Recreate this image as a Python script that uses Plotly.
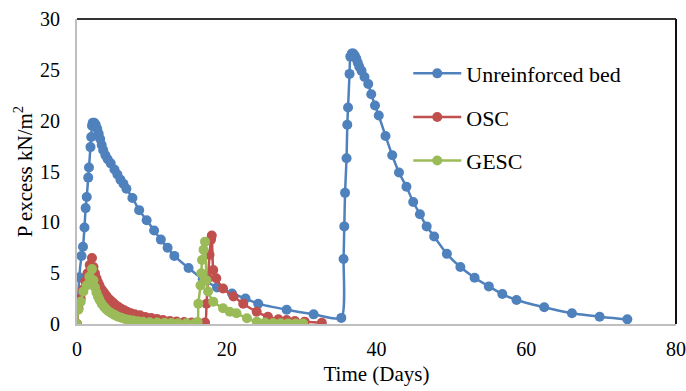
import plotly.graph_objects as go

# ---- data ----
unreinforced_t = [0, 0.3, 0.6, 0.8, 1.0, 1.15, 1.3, 1.5, 1.6, 1.8, 1.9, 2.0, 2.1, 2.3, 2.5, 2.7, 2.9, 3.1,
                  3.3, 3.5, 3.8, 4.1, 4.5, 5.0, 5.4, 5.8, 6.2, 6.6, 7.4, 8.3, 9.3, 10.3, 11.2, 12.1, 13.0,
                  14.9, 16.8, 18.7, 20.7, 22.5, 24.2, 28.0, 31.6, 35.3, 35.6, 35.7, 35.8, 36.0, 36.1, 36.2,
                  36.4, 36.5, 36.7, 36.9, 37.1, 37.3, 37.5, 37.7, 38.0, 38.4, 38.9, 39.3, 39.8, 40.3, 41.2,
                  42.1, 43.0, 44.0, 44.9, 45.8, 46.7, 47.7, 49.4, 51.2, 53.1, 55.0, 56.8, 58.7, 62.4, 66.1,
                  69.8, 73.5]
unreinforced_p = [0, 4.6, 6.7, 7.6, 9.5, 11.4, 12.5, 14.4, 15.4, 17.4, 18.4, 19.5, 19.8, 19.8, 19.6, 19.2,
                  18.7, 18.2, 17.6, 17.1, 16.6, 16.2, 15.8, 15.2, 14.7, 14.2, 13.8, 13.3, 12.4, 11.2, 10.2,
                  9.2, 8.3, 7.5, 6.7, 5.5, 4.4, 3.6, 3.0, 2.5, 2.0, 1.4, 0.95, 0.6, 6.4, 9.6, 12.9, 16.3,
                  19.6, 21.3, 24.6, 26.3, 26.6, 26.6, 26.4, 26.1, 25.7, 25.3, 24.9, 24.3, 23.6, 22.6, 21.5,
                  20.5, 18.5, 16.6, 14.9, 13.5, 12.0, 10.8, 9.6, 8.6, 6.9, 5.6, 4.55, 3.7, 2.95, 2.36, 1.64,
                  1.05, 0.72, 0.46]

osc_t = [0, 0.2, 0.5, 0.8, 1.1, 1.4, 1.7, 2.0, 2.2, 2.4, 2.6, 2.8, 3.0, 3.3, 3.6, 3.9, 4.2, 4.5, 4.8,
         5.1, 5.5, 5.9, 6.3, 6.7, 7.2, 7.7, 8.4, 9.1, 9.9, 10.7, 11.5, 12.4, 13.3, 14.3, 15.3, 16.2,
         17.1, 17.3, 17.5, 17.7, 17.9, 18.0, 18.2, 18.6, 19.5, 20.9, 22.2, 24.0, 25.5, 26.9, 28.0,
         29.1, 30.4, 32.7]
osc_p = [0, 1.5, 2.5, 3.4, 4.2, 5.0, 5.8, 6.5, 5.6, 5.0, 4.5, 4.1, 3.8, 3.4, 3.1, 2.8, 2.5, 2.3, 2.1,
         1.9, 1.7, 1.5, 1.35, 1.2, 1.05, 0.95, 0.85, 0.7, 0.6, 0.5, 0.4, 0.3, 0.25, 0.2, 0.15, 0.12,
         0.15, 2.0, 4.5, 6.8, 8.3, 8.7, 5.3, 4.5, 3.5, 2.7, 2.0, 1.2, 0.72, 0.46, 0.4, 0.3, 0.23, 0.13]

gesc_t = [0, 0.17, 0.5, 0.85, 1.3, 1.65, 2.0, 2.2, 2.4, 2.6, 2.8, 3.0, 3.3, 3.6, 3.9, 4.2, 4.6, 5.0,
          5.4, 5.9, 6.4, 6.9, 7.5, 8.1, 8.8, 9.7, 10.7, 11.7, 12.6, 13.5, 14.6, 15.7, 16.1, 16.2, 16.5,
          16.6, 16.7, 16.9, 17.1, 17.3, 17.5, 18.2, 19.5, 20.4, 21.3, 22.7, 24.0, 25.1, 26.2, 27.2,
          28.2, 29.2, 30.2]
gesc_p = [0, 1.4, 2.2, 3.2, 3.8, 4.65, 5.4, 4.3, 3.6, 3.1, 2.7, 2.4, 2.0, 1.7, 1.45, 1.25, 1.05, 0.9,
          0.75, 0.62, 0.5, 0.42, 0.35, 0.28, 0.22, 0.18, 0.14, 0.12, 0.1, 0.08, 0.07, 0.06, 0.2, 2.0,
          3.8, 5.0, 6.3, 7.3, 8.1, 4.3, 3.2, 2.2, 1.55, 1.2, 1.05, 0.56, 0.23, 0.15, 0.1, 0.08, 0.06,
          0.05, 0.05]

series_names = ["Unreinforced bed", "OSC", "GESC"]
series_colors = ["#4F81BD", "#C0504D", "#9BBB59"]
x_ticks = [0, 20, 40, 60, 80]
y_ticks = [0, 5, 10, 15, 20, 25, 30]

FONT = "Liberation Serif"

fig = go.Figure()
for name, t, p, c in zip(series_names,
                         [unreinforced_t, osc_t, gesc_t],
                         [unreinforced_p, osc_p, gesc_p],
                         series_colors):
    fig.add_trace(go.Scatter(
        x=t, y=p, name=name, mode="lines+markers",
        line=dict(color=c, width=2.5, shape="spline", smoothing=0.6),
        marker=dict(color=c, size=10, symbol="circle"),
        legendgroup=name,
    ))

fig.update_layout(
    width=686, height=391,
    margin=dict(l=77, r=10, t=19, b=67),
    paper_bgcolor="white", plot_bgcolor="white",
    font=dict(family=FONT, size=20, color="black"),
    showlegend=True,
    legend=dict(x=0.553, y=0.89, xanchor="left", yanchor="top",
                bgcolor="rgba(0,0,0,0)", font=dict(family=FONT, size=22, color="black"),
                traceorder="grouped", tracegroupgap=12, itemwidth=48),
    xaxis=dict(range=[0, 80], tickvals=x_ticks, showgrid=False, zeroline=False,
               showline=True, linecolor="#BFBFBF", linewidth=2, ticks="",
               automargin=False, ticklabelstandoff=6, ticklabeloverflow="allow",
               title=dict(text="Time (Days)", font=dict(family=FONT, size=21, color="black"), standoff=7),
               tickfont=dict(family=FONT, size=20, color="black")),
    yaxis=dict(range=[0, 30], tickvals=y_ticks, showgrid=False, zeroline=False,
               showline=True, linecolor="#BFBFBF", linewidth=2, ticks="",
               automargin=False, ticklabelstandoff=11,
               title=dict(text="P excess kN/m<sup>2</sup>", font=dict(family=FONT, size=21, color="black"),
                          standoff=2),
               tickfont=dict(family=FONT, size=20, color="black")),
)

# plot-area border on top and right (as in the reference)
fig.add_shape(type="line", xref="paper", yref="paper", x0=0, x1=1, y0=1, y1=1,
              line=dict(color="#333333", width=2))
fig.add_shape(type="line", xref="paper", yref="paper", x0=1, x1=1, y0=0, y1=1,
              line=dict(color="#111111", width=2))

fig.write_html("out.html")
